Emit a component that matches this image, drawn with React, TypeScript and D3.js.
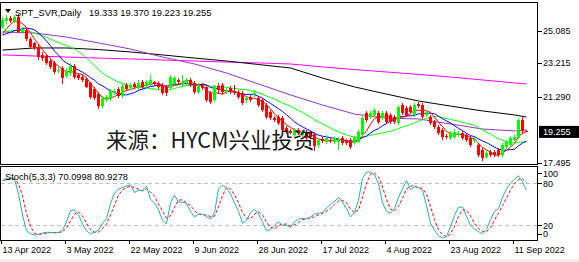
import React from "react";
import * as d3 from "d3";

// ---- DATA ----
const dateLabels = ["13 Apr 2022", "3 May 2022", "22 May 2022", "9 Jun 2022", "28 Jun 2022", "17 Jul 2022", "4 Aug 2022", "23 Aug 2022", "11 Sep 2022"];
const dateLabelBars = [0, 16, 32, 48, 64, 80, 96, 112, 128];

const opens = [
  25.29, 25.63, 25.80, 25.63, 25.86, 25.00, 25.11, 24.60, 24.37, 24.14,
  23.68, 23.62, 23.33, 23.22, 22.76, 22.93, 22.47, 22.64, 23.04, 22.53,
  22.41, 22.30, 22.07, 21.72, 21.43, 20.74, 21.09, 21.15, 21.49, 21.72,
  21.32, 21.95, 21.78, 22.01, 21.78, 22.12, 21.89, 21.95, 22.12, 22.07,
  21.95, 21.84, 21.78, 22.01, 22.24, 21.95, 22.07, 22.24, 22.07, 21.55,
  21.95, 21.84, 21.49, 21.09, 21.89, 21.95, 21.55, 21.78, 21.55, 21.55,
  21.49, 21.09, 21.26, 21.38, 21.20, 21.09, 20.80, 20.40, 20.05, 20.11,
  20.05, 19.48, 19.31, 19.08, 19.36, 19.08, 19.25, 19.19, 19.13, 18.50,
  18.85, 18.67, 18.79, 18.67, 18.67, 18.90, 18.73, 18.79, 18.62, 18.67,
  19.08, 20.34, 20.11, 20.23, 20.34, 20.05, 20.34, 20.23, 20.11, 19.77,
  20.80, 20.63, 20.69, 20.23, 20.86, 20.80, 20.23, 20.11, 19.82, 19.54,
  19.36, 19.02, 18.90, 18.96, 19.08, 19.19, 19.08, 18.90, 18.73, 18.50,
  18.21, 17.81, 18.10, 18.10, 18.21, 17.93, 18.39, 18.50, 18.79, 18.90,
  19.94, 19.333,
];
const highs = [
  25.86, 25.98, 25.92, 25.98, 26.03, 25.29, 25.23, 24.71, 24.42, 24.25,
  23.85, 23.73, 23.45, 23.33, 22.99, 23.04, 22.93, 23.22, 23.16, 22.64,
  22.53, 22.41, 22.12, 21.84, 21.55, 21.32, 21.38, 21.72, 21.72, 21.84,
  22.01, 22.07, 22.07, 22.12, 22.24, 22.24, 22.24, 22.53, 22.18, 22.18,
  22.07, 21.95, 22.53, 22.47, 22.35, 22.53, 22.35, 22.35, 22.18, 22.07,
  22.07, 21.95, 21.61, 21.95, 22.07, 22.07, 21.78, 21.89, 21.95, 21.66,
  21.61, 21.32, 21.38, 21.66, 21.32, 21.20, 20.92, 20.51, 20.17, 20.23,
  20.17, 19.59, 19.42, 19.48, 19.48, 19.36, 19.36, 19.31, 19.25, 18.90,
  18.96, 19.08, 18.90, 19.02, 18.96, 19.02, 18.85, 18.90, 19.02, 19.36,
  20.17, 20.46, 20.46, 20.63, 20.46, 20.46, 20.46, 20.34, 20.23, 20.80,
  20.92, 20.74, 20.80, 20.92, 20.97, 20.92, 20.51, 20.23, 19.94, 19.65,
  19.48, 19.13, 19.31, 19.42, 19.31, 19.31, 19.19, 19.02, 18.96, 18.62,
  18.33, 18.16, 18.21, 18.21, 18.33, 18.62, 18.79, 19.02, 19.08, 20.05,
  20.17, 19.370,
];
const lows = [
  25.17, 25.46, 25.52, 25.52, 24.94, 24.88, 24.48, 24.02, 23.96, 23.39,
  23.33, 23.10, 22.87, 22.59, 22.64, 22.01, 22.35, 22.47, 22.30, 22.24,
  22.12, 21.78, 21.15, 21.09, 20.57, 20.63, 20.97, 21.03, 21.38, 21.20,
  21.20, 21.61, 21.66, 21.72, 21.66, 21.72, 21.78, 21.89, 21.89, 21.72,
  21.38, 21.32, 21.66, 21.89, 22.01, 21.84, 21.95, 21.84, 21.43, 21.43,
  21.66, 20.97, 20.86, 20.97, 21.43, 21.43, 21.43, 21.43, 21.38, 21.15,
  20.80, 20.92, 20.97, 21.26, 20.69, 20.40, 20.00, 19.94, 19.82, 19.65,
  19.25, 19.13, 19.13, 18.96, 19.08, 18.96, 18.79, 18.85, 18.16, 18.33,
  18.62, 18.56, 18.62, 18.56, 18.21, 18.50, 18.50, 18.27, 18.50, 18.62,
  19.02, 19.82, 20.00, 20.11, 19.71, 19.94, 19.71, 19.71, 19.71, 19.65,
  20.23, 20.11, 20.28, 20.11, 20.63, 20.00, 20.11, 19.65, 19.42, 19.08,
  18.79, 18.85, 18.79, 18.85, 18.96, 18.79, 18.67, 18.39, 18.62, 17.81,
  17.58, 17.70, 17.81, 17.81, 17.81, 17.81, 18.27, 18.39, 18.73, 18.85,
  19.13, 19.223,
];
const closes = [
  25.69, 25.80, 25.63, 25.86, 25.00, 25.17, 24.60, 24.14, 24.08, 23.56,
  23.50, 23.22, 22.99, 22.70, 22.81, 22.35, 22.76, 23.04, 22.41, 22.35,
  22.24, 21.84, 21.26, 21.20, 20.74, 21.20, 21.26, 21.61, 21.61, 21.32,
  21.89, 21.72, 21.95, 21.84, 22.07, 21.84, 22.12, 22.24, 22.01, 21.84,
  21.49, 21.49, 22.41, 22.35, 22.12, 22.12, 22.24, 21.95, 21.55, 21.95,
  21.78, 21.09, 20.97, 21.84, 21.66, 21.55, 21.66, 21.55, 21.49, 21.26,
  20.92, 21.20, 21.09, 21.49, 20.80, 20.51, 20.11, 20.05, 19.94, 19.77,
  19.36, 19.25, 19.19, 19.36, 19.19, 19.25, 18.90, 18.96, 18.44, 18.79,
  18.73, 18.90, 18.73, 18.90, 18.85, 18.62, 18.62, 18.39, 18.90, 19.25,
  20.05, 19.94, 20.34, 20.51, 19.82, 20.34, 19.82, 19.82, 19.82, 20.69,
  20.34, 20.23, 20.40, 20.80, 20.74, 20.11, 20.40, 19.77, 19.54, 19.19,
  18.96, 18.96, 19.19, 19.25, 19.19, 18.90, 18.79, 18.50, 18.85, 17.93,
  17.75, 18.04, 17.93, 17.93, 17.93, 18.50, 18.67, 18.90, 18.96, 19.94,
  19.33, 19.255,
];
// closes before the first visible bar (for the moving averages)
const preCloses = [25.3, 25.5, 25.1, 25.2, 24.9, 25.1, 25.4, 25.5, 25.3, 25.0, 24.9, 25.0, 24.8, 24.6, 24.4, 24.3, 24.5, 24.8, 25.2];

// slow moving averages, read at sampled bars
const maBars = [0, 8, 16, 24, 32, 40, 48, 56, 64, 72, 80, 88, 96, 104, 112, 120, 128, 131];
const ma50 = [25.00, 24.94, 24.71, 24.37, 24.02, 23.56, 23.16, 22.64, 22.01, 21.38, 20.80, 20.28, 20.05, 20.00, 19.71, 19.42, 19.31, 19.36];
const ma100 = [23.96, 24.08, 24.08, 23.99, 23.85, 23.68, 23.50, 23.33, 23.13, 22.93, 22.35, 21.84, 21.43, 21.03, 20.74, 20.46, 20.23, 20.11];
const ma200 = [23.68, 23.62, 23.56, 23.50, 23.45, 23.39, 23.33, 23.27, 23.22, 23.16, 22.99, 22.84, 22.70, 22.56, 22.41, 22.24, 22.07, 22.01];

const stochK = [
  84, 86, 87, 86, 65, 35, 12, 8, 6, 7,
  9, 10, 10, 9, 10, 13, 25, 41, 42, 35,
  22, 12, 8, 10, 13, 23, 30, 51, 66, 72,
  74, 76, 78, 67, 70, 70, 76, 57, 52, 42,
  27, 22, 52, 63, 53, 53, 51, 40, 32, 36,
  36, 32, 29, 38, 72, 77, 74, 65, 52, 40,
  23, 27, 38, 43, 36, 25, 12, 14, 20, 25,
  20, 20, 17, 25, 29, 30, 29, 32, 36, 37,
  38, 45, 50, 54, 60, 53, 44, 32, 38, 56,
  87, 96, 96, 92, 80, 52, 40, 37, 44, 60,
  72, 84, 71, 75, 74, 70, 48, 23, 13, 5,
  2, 4, 18, 34, 46, 46, 33, 20, 15, 11,
  8, 14, 28, 40, 44, 60, 72, 80, 86, 90.7,
  82, 70.0998,
];

const priceTicks = [25.085, 23.215, 21.29, 17.495];
const lastPrice = 19.255;
const stochLevels = [80, 20];
const stochAxisLabels = [100, 80, 20, 0];
const titleText = "SPT_SVR,Daily";
const titleValues = "19.333 19.370 19.223 19.255";
const stochTitle = "Stoch(5,3,3) 70.0998 80.9278";
const watermark = "来源：HYCM兴业投资";

const BULL = "#00ff00";
const BEAR = "#ff0000";

export default function App() {
  const W = 579, H = 262;
  const n = closes.length;
  const x = d3.scaleLinear().domain([0, n - 1]).range([2, 526]);
  const y = d3.scaleLinear().domain([17.495, 25.085]).range([162.5, 30.5]);
  const ys = d3.scaleLinear().domain([0, 100]).range([239.3, 169.3]);

  const all = [...preCloses, ...closes];
  const sma = (p: number) =>
    closes.map((_, i) => {
      const j = i + preCloses.length;
      return d3.mean(all.slice(Math.max(0, j - p + 1), j + 1)) as number;
    });
  const ma5 = sma(5), ma10 = sma(10), ma20 = sma(20);

  const lineIdx = d3.line<number>().x((_, i) => x(i) + 0.5).y((d) => y(d));
  const lineSampled = (vals: number[]) =>
    d3.line<number>().x((_, i) => x(maBars[i]) + 0.5).y((d) => y(d))(vals) || "";

  const stochD = stochK.map((_, i) => d3.mean(stochK.slice(Math.max(0, i - 2), i + 1)) as number);
  const stochLine = d3.line<number>().x((_, i) => x(i) + 0.5).y((d) => ys(d));

  const font = "'Liberation Sans', Arial, sans-serif";

  return (
    <svg width={W} height={H} style={{ position: "absolute", left: 0, top: 0, background: "#fff" }} xmlns="http://www.w3.org/2000/svg">
      <defs>
        <clipPath id="mainClip"><rect x={1} y={3} width={536} height={161} /></clipPath>
        <clipPath id="stClip"><rect x={1} y={168} width={536} height={72} /></clipPath>
      </defs>
      <rect x={0} y={0} width={W} height={H} fill="#ffffff" />
      <rect x={0} y={259} width={W} height={3} fill="#f0f0f0" />

      {/* main panel */}
      <g clipPath="url(#mainClip)">
        <path d={lineSampled(ma200)} fill="none" stroke="#ff00ff" strokeWidth={1} />
        <path d={lineSampled(ma100)} fill="none" stroke="#000000" strokeWidth={1} />
        <path d={lineSampled(ma50)} fill="none" stroke="#9932cc" strokeWidth={1} />
        <path d={lineIdx(ma20) || ""} fill="none" stroke="#00ff00" strokeWidth={1} />
        <path d={lineIdx(ma10) || ""} fill="none" stroke="#0000ff" strokeWidth={1} />
        <path d={lineIdx(ma5) || ""} fill="none" stroke="#ff0000" strokeWidth={1} />
        {closes.map((c, i) => {
          const o = opens[i];
          const col = c >= o ? BULL : BEAR;
          const cx = Math.round(x(i));
          const top = Math.round(y(Math.max(o, c)));
          const bot = Math.round(y(Math.min(o, c)));
          return (
            <g key={i} shapeRendering="crispEdges">
              <rect x={cx} y={Math.round(y(highs[i]))} width={1} height={Math.max(1, Math.round(y(lows[i])) - Math.round(y(highs[i])))} fill={col} />
              <rect x={cx - 1} y={top} width={3} height={Math.max(1, bot - top)} fill={col} />
            </g>
          );
        })}
      </g>
      <text x={106} y={148} fontFamily="'Noto Sans CJK SC', sans-serif" fontSize={21.5} fill="#1a1a1a">{watermark}</text>

      {/* title */}
      <path d="M5,9 L11,9 L8,13 Z" fill="#000" />
      <text x={15} y={15.5} fontFamily={font} fontSize={9.4} fill="#000">{titleText}</text>
      <text x={89} y={15.5} fontFamily={font} fontSize={9.4} fill="#000">{titleValues}</text>

      {/* stoch panel */}
      <g clipPath="url(#stClip)">
        {stochLevels.map((lv) => (
          <line key={lv} x1={1} x2={537} y1={Math.round(ys(lv)) + 0.5} y2={Math.round(ys(lv)) + 0.5} stroke="#c0c0c0" strokeDasharray="4,3" />
        ))}
        <path d={stochLine(stochD) || ""} fill="none" stroke="#ff0000" strokeWidth={1} strokeDasharray="3,2" />
        <path d={stochLine(stochK) || ""} fill="none" stroke="#20b2aa" strokeWidth={1} />
      </g>
      <text x={5} y={180} fontFamily={font} fontSize={9.3} fill="#000">{stochTitle}</text>

      {/* frames */}
      <g shapeRendering="crispEdges" fill="none" stroke="#000">
        <rect x={0.5} y={2.5} width={537} height={162} />
        <rect x={0.5} y={166.5} width={537} height={74} />
      </g>

      {/* price axis */}
      {priceTicks.map((p) => (
        <g key={p}>
          <line x1={538} x2={542} y1={Math.round(y(p)) + 0.5} y2={Math.round(y(p)) + 0.5} stroke="#000" shapeRendering="crispEdges" />
          <text x={543} y={y(p) + 3.3} fontFamily={font} fontSize={9} fill="#000">{p.toFixed(3)}</text>
        </g>
      ))}
      <rect x={539} y={y(lastPrice) - 6} width={40} height={12} fill="#000" />
      <text x={543} y={y(lastPrice) + 3.3} fontFamily={font} fontSize={9} fill="#fff">{lastPrice.toFixed(3)}</text>

      {/* stoch axis */}
      {stochAxisLabels.map((v) => {
        const yy = v === 100 ? ys(100) + 4 : v === 0 ? ys(0) - 5.5 : ys(v);
        return (
          <g key={v}>
            <line x1={538} x2={542} y1={Math.round(yy) + 0.5} y2={Math.round(yy) + 0.5} stroke="#000" shapeRendering="crispEdges" />
            <text x={543} y={yy + 3.3} fontFamily={font} fontSize={9} fill="#000">{v}</text>
          </g>
        );
      })}

      {/* date axis */}
      {dateLabelBars.map((b, i) => {
        const xx = Math.round(x(b)) - 1;
        return (
          <g key={b}>
            <line x1={xx + 0.5} x2={xx + 0.5} y1={241} y2={244} stroke="#000" shapeRendering="crispEdges" />
            <text x={xx + 1.5} y={252.5} fontFamily={font} fontSize={9} fill="#000">{dateLabels[i]}</text>
          </g>
        );
      })}
    </svg>
  );
}
